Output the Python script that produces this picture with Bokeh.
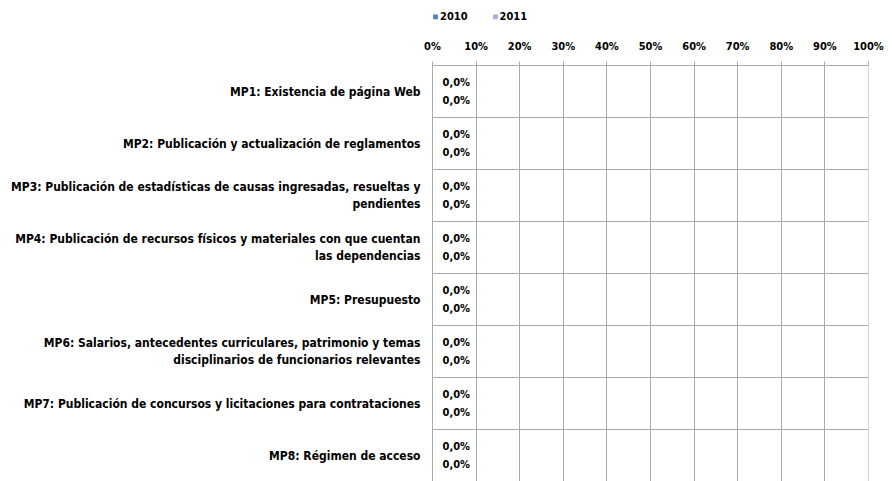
from bokeh.plotting import figure
from bokeh.layouts import column
from bokeh.models import Range1d, FactorRange, FixedTicker, Legend, LegendItem, ColumnDataSource, NumeralTickFormatter
from bokeh.transform import dodge
from bokeh.core.properties import value
from bokeh.embed import file_html
from bokeh.resources import INLINE

categories = [
    "MP1: Existencia de página Web",
    "MP2: Publicación y actualización de reglamentos",
    "MP3: Publicación de estadísticas de causas ingresadas, resueltas y\npendientes",
    "MP4: Publicación de recursos físicos y materiales con que cuentan\nlas dependencias",
    "MP5: Presupuesto",
    "MP6: Salarios, antecedentes curriculares, patrimonio y temas\ndisciplinarios de funcionarios relevantes",
    "MP7: Publicación de concursos y licitaciones para contrataciones",
    "MP8: Régimen de acceso",
]
series_names = ["2010", "2011"]
values_2010 = [0.0, 0.0, 0.0, 0.0, 0.0, 0.0, 0.0, 0.0]
values_2011 = [0.0, 0.0, 0.0, 0.0, 0.0, 0.0, 0.0, 0.0]
series_colors = ["#4F81BD", "#9DB3DB"]
x_ticks = [0.0, 0.1, 0.2, 0.3, 0.4, 0.5, 0.6, 0.7, 0.8, 0.9, 1.0]

FONT = "DejaVu Sans Condensed"
GRID = "#A9A9A9"

# ---- legend strip (separate small figure on top) ----
lg = figure(width=892, height=32, x_range=Range1d(0, 1), y_range=Range1d(0, 1),
            output_backend="svg", toolbar_location=None,
            min_border_left=0, min_border_right=0, min_border_top=0, min_border_bottom=0)
lg.axis.visible = False
lg.grid.grid_line_color = None
lg.outline_line_color = None
leg_renderers = []
for vals, col in zip([values_2010, values_2011], series_colors):
    # zero-length bars (values are 0) only serve as legend swatches
    leg_renderers.append(lg.hbar(y=[0.5], left=[0.0], right=[vals[0]], height=0.5,
                                 fill_color=col, line_color=None))
legend = Legend(items=[LegendItem(label=s, renderers=[r]) for s, r in zip(series_names, leg_renderers)],
                orientation="horizontal", location="left")
legend.label_text_font = FONT
legend.label_text_font_size = "11px"
legend.label_text_font_style = "bold"
legend.label_text_color = "black"
legend.glyph_width = 6
legend.glyph_height = 6
legend.label_standoff = 2
legend.spacing = 24
legend.padding = 0
legend.margin = 0
legend.border_line_color = None
legend.background_fill_alpha = 0
lg.add_layout(legend)

# ---- main chart ----
p = figure(width=892, height=449,
           x_range=Range1d(0, 1), y_range=FactorRange(factors=list(reversed(categories))),
           output_backend="svg", toolbar_location=None, x_axis_location="above",
           min_border_left=432, min_border_right=24, min_border_top=33, min_border_bottom=0)
p.outline_line_color = None

cells = ColumnDataSource(dict(y=categories, left=[0.0] * len(categories), right=[1.0] * len(categories)))
p.hbar(y="y", left="left", right="right", height=1.0, source=cells,
       fill_color=None, line_color=GRID, line_width=1)

for vals, off, col in zip([values_2010, values_2011], [0.17, -0.17], series_colors):
    src = ColumnDataSource(dict(
        y=categories,
        right=vals,
        label=[("%.1f%%" % (v * 100)).replace(".", ",") for v in vals],
    ))
    p.hbar(y=dodge("y", off, range=p.y_range), left=0, right="right", height=0.33, source=src,
           fill_color=col, line_color=None)
    p.text(x="right", y=dodge("y", off, range=p.y_range), text="label", source=src, x_offset=10,
           text_align="left", text_baseline="middle",
           text_font=value(FONT), text_font_size="11px", text_font_style="bold",
           text_color="black")

xa = p.xaxis[0]
xa.ticker = FixedTicker(ticks=x_ticks)
xa.formatter = NumeralTickFormatter(format="0%")
xa.major_label_text_font = FONT
xa.major_label_text_font_size = "11px"
xa.major_label_text_font_style = "bold"
xa.major_label_text_color = "black"
xa.axis_line_color = GRID
xa.major_tick_line_color = GRID
xa.major_tick_out = 4
xa.major_tick_in = 0
xa.minor_tick_line_color = None
xa.major_label_standoff = 9

ya = p.yaxis[0]
ya.major_label_text_font = FONT
ya.major_label_text_font_size = "12px"
ya.major_label_text_font_style = "bold"
ya.major_label_text_color = "black"
ya.axis_line_color = GRID
ya.major_tick_line_color = None
ya.major_tick_out = 0
ya.major_tick_in = 0
ya.minor_tick_line_color = None
ya.major_label_standoff = 12

p.xgrid.ticker = FixedTicker(ticks=x_ticks)
p.xgrid.grid_line_color = GRID
p.ygrid.grid_line_color = None

open("out.html", "w").write(file_html(column(lg, p), INLINE))
